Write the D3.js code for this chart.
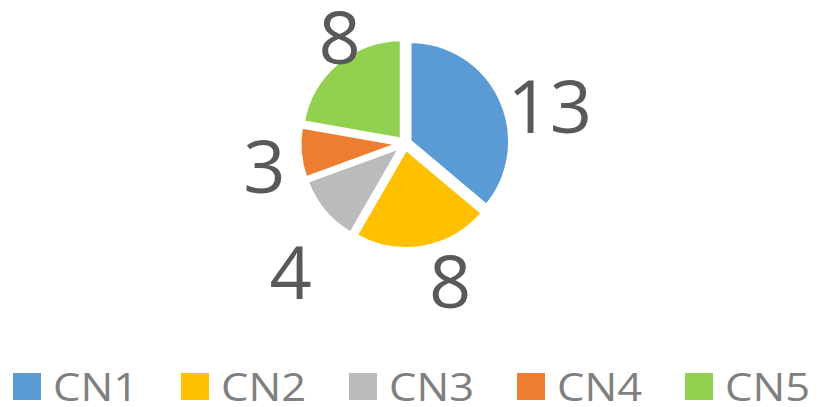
<!DOCTYPE html>
<html>
<head>
<meta charset="utf-8">
<script src="https://cdn.jsdelivr.net/npm/d3@7"></script>
<style>
  html, body { margin: 0; padding: 0; background: #fff; }
  svg { display: block; }
</style>
</head>
<body>
<div class="container"></div>
<script>
var categories = ['CN1', 'CN2', 'CN3', 'CN4', 'CN5']
var values = [13, 8, 4, 3, 8]
var colors = ['#5B9BD5', '#FFC000', '#BBBBBB', '#ED7D31', '#92D050']

// Excel "best fit" moved the labels off the mid angle a bit (degrees, px)
var labelShiftAngle = [10.7, -8.1, -8.5, -4.3, 8.3]
var labelShiftRadius = [4, 0, 27, -3, -21]

var width = 818, height = 407
var cx = 405, cy = 143.5, radius = 100.5, explode = 5

var svg = d3.select('.container')
  .append('svg')
    .attr('width', width)
    .attr('height', height)

var data = categories.map(function(c, i) {
  return { name: c, value: values[i], color: colors[i], i: i }
})

var pie = d3.pie()
  .sort(null)
  .value(function(d) { return d.value })

var arcs = pie(data)

var arc = d3.arc()
  .innerRadius(0)
  .outerRadius(radius)

function mid(d) { return (d.startAngle + d.endAngle) / 2 }

var g = svg.append('g')
  .attr('transform', 'translate(' + cx + ',' + cy + ')')

g.selectAll('path')
  .data(arcs)
  .enter()
  .append('path')
    .attr('d', arc)
    .attr('fill', function(d) { return d.data.color })
    .attr('stroke', '#fff')
    .attr('stroke-width', 4)
    .attr('stroke-linejoin', 'miter')
    .attr('transform', function(d) {
      var a = mid(d)
      return 'translate(' + (Math.sin(a) * explode) + ',' + (-Math.cos(a) * explode) + ')'
    })

function labelPoint(d) {
  var a = mid(d) + labelShiftAngle[d.data.i] * Math.PI / 180
  var r = radius + 45 + labelShiftRadius[d.data.i]
  return [Math.sin(a) * r, -Math.cos(a) * r]
}

g.selectAll('text.label')
  .data(arcs)
  .enter()
  .append('text')
    .attr('class', 'label')
    .attr('x', function(d) { return labelPoint(d)[0] })
    .attr('y', function(d) { return labelPoint(d)[1] })
    .attr('dy', '0.357em')
    .attr('text-anchor', 'middle')
    .attr('font-family', '"Open Sans", sans-serif')
    .attr('font-size', 74)
    .attr('fill', '#595959')
    .text(function(d) { return d.data.value })

// legend
var lx = d3.scaleBand()
  .domain(categories)
  .range([13, 13 + 168 * categories.length])

var legend = svg.append('g')
  .selectAll('g')
  .data(data)
  .enter()
  .append('g')
    .attr('transform', function(d) { return 'translate(' + lx(d.name) + ',0)' })

legend.append('rect')
  .attr('x', 0)
  .attr('y', 373)
  .attr('width', 28)
  .attr('height', 27)
  .attr('fill', function(d) { return d.color })

legend.append('text')
  .attr('x', 40)
  .attr('y', 401)
  .attr('font-family', '"Open Sans", sans-serif')
  .attr('font-size', 38)
  .attr('textLength', 85)
  .attr('lengthAdjust', 'spacingAndGlyphs')
  .attr('fill', '#7F7F7F')
  .text(function(d) { return d.name })
</script>
</body>
</html>
